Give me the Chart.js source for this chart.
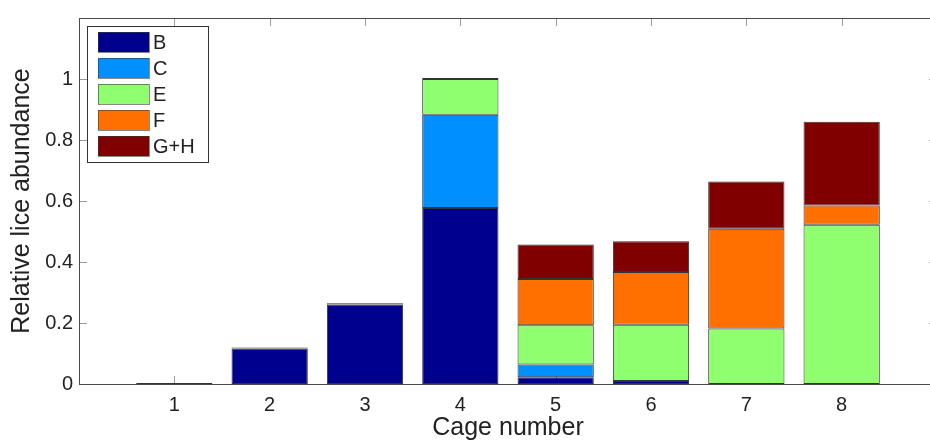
<!DOCTYPE html>
<html>
<head>
<meta charset="utf-8">
<script src="https://cdn.jsdelivr.net/npm/chart.js@4/dist/chart.umd.min.js"></script>
<style>
  html, body { margin: 0; padding: 0; background: #fff; overflow: hidden; }
  #wrap { width: 940px; height: 441px; }
</style>
</head>
<body>
<div id="wrap"><canvas id="chart-canvas" width="940" height="441"></canvas></div>
<script>
const chart = document.getElementById("chart-canvas");

// Data
const cages = [1, 2, 3, 4, 5, 6, 7, 8];
const stageB  = [0.003, 0.116, 0.261, 0.577, 0.022, 0.010, 0, 0];
const stageC  = [0, 0, 0, 0.306, 0.042, 0, 0, 0];
const stageE  = [0, 0, 0, 0.117, 0.129, 0.184, 0.182, 0.522];
const stageF  = [0, 0, 0, 0, 0.151, 0.173, 0.327, 0.063];
const stageGH = [0, 0.004, 0.004, 0.003, 0.113, 0.101, 0.155, 0.275];
const yTicks = [0, 0.2, 0.4, 0.6, 0.8, 1];
// ======================

const fontFamily = "'Liberation Sans', Arial, Helvetica, sans-serif";
const textColor = "#222";
const axisColor = "#4a4a4a";
const barEdge = "#333";

function series(label, values, color) {
  return {
    label: label,
    // empty stages are left out so they don't leave a border line
    data: cages.map((c, i) => ({ x: c, y: values[i] || null })),
    backgroundColor: color,
    borderColor: barEdge,
    borderWidth: 1,
    borderSkipped: false,
    barPercentage: 0.8,
    categoryPercentage: 1
  };
}

const chartData = {
  datasets: [
    series("B", stageB, "#00008f"),
    series("C", stageC, "#008fff"),
    series("E", stageE, "#8fff70"),
    series("F", stageF, "#ff7000"),
    series("G+H", stageGH, "#800000")
  ]
};

// inside ticks, like the matlab axes
const tickMarks = {
  id: "tickMarks",
  beforeDatasetsDraw(c) {
    const { ctx, chartArea: a, scales } = c;
    const len = 8;
    ctx.save();
    ctx.strokeStyle = "#9a9a9a";
    ctx.lineWidth = 1;
    ctx.beginPath();
    yTicks.concat([1.2]).forEach((v) => {
      const y = Math.round(scales.y.getPixelForValue(v)) + 0.5;
      ctx.moveTo(a.left, y); ctx.lineTo(a.left + len, y);
      ctx.moveTo(a.right, y); ctx.lineTo(a.right - len, y);
    });
    cages.forEach((v) => {
      const x = Math.round(scales.x.getPixelForValue(v)) + 0.5;
      ctx.moveTo(x, a.top); ctx.lineTo(x, a.top + len);
      ctx.moveTo(x, a.bottom); ctx.lineTo(x, a.bottom - len);
    });
    ctx.stroke();
    ctx.restore();
  },
  afterDatasetsDraw(c) {
    const { ctx, chartArea: a } = c;
    ctx.save();
    ctx.strokeStyle = axisColor;
    ctx.lineWidth = 1;
    ctx.strokeRect(Math.round(a.left) + 0.5, Math.round(a.top) + 0.5,
      Math.round(a.right - a.left), Math.round(a.bottom - a.top));
    ctx.restore();
  }
};

// legend box sitting inside the axes, top left
const boxLegend = {
  id: "boxLegend",
  afterDraw(c) {
    const { ctx, chartArea: a } = c;
    const x0 = a.left + 8, y0 = a.top + 8;
    const w = 121, h = 136;
    ctx.save();
    ctx.fillStyle = "#fff";
    ctx.fillRect(x0, y0, w, h);
    ctx.strokeStyle = "#333";
    ctx.lineWidth = 1;
    ctx.strokeRect(Math.round(x0) + 0.5, Math.round(y0) + 0.5, w, h);
    ctx.font = "20px " + fontFamily;
    ctx.textBaseline = "middle";
    c.data.datasets.forEach((ds, i) => {
      const cy = y0 + 16 + i * 26;
      ctx.fillStyle = ds.backgroundColor;
      ctx.fillRect(x0 + 11, cy - 10, 51, 20);
      ctx.strokeStyle = "rgba(60,60,60,0.6)";
      ctx.strokeRect(Math.round(x0 + 11) + 0.5, Math.round(cy - 10) + 0.5, 51, 20);
      ctx.fillStyle = textColor;
      ctx.fillText(ds.label, x0 + 66, cy + 1);
    });
    ctx.restore();
  }
};

const options = {
  responsive: false,
  animation: false,
  layout: { padding: { top: 13, right: 3, left: 0, bottom: 0 } },
  plugins: {
    legend: { display: false },
    tooltip: { enabled: false }
  },
  scales: {
    x: {
      type: "linear",
      stacked: true,
      offset: false,
      min: 0,
      max: 9,
      grid: { display: false, drawTicks: false, offset: false },
      border: { display: false },
      afterBuildTicks: (s) => { s.ticks = cages.map((v) => ({ value: v })); },
      afterFit: (s) => { s.height = 57; },
      ticks: {
        color: textColor,
        padding: 9,
        font: { family: fontFamily, size: 20 },
        callback: (v) => String(v)
      },
      title: {
        display: true,
        text: "Cage number",
        color: textColor,
        font: { family: fontFamily, size: 25, lineHeight: 1 },
        padding: { top: 0, bottom: 0 }
      }
    },
    y: {
      stacked: true,
      min: 0,
      max: 1.2,
      grid: { display: false, drawTicks: false },
      border: { display: false },
      afterBuildTicks: (s) => { s.ticks = yTicks.map((v) => ({ value: v })); },
      afterFit: (s) => { s.width = 79; },
      ticks: {
        color: textColor,
        padding: 6,
        font: { family: fontFamily, size: 20 },
        callback: (v) => String(v)
      },
      title: {
        display: true,
        text: "Relative lice abundance",
        color: textColor,
        font: { family: fontFamily, size: 25, lineHeight: 1 },
        padding: { top: 10, bottom: 0 }
      }
    }
  }
};

const config = {
  type: "bar",
  data: chartData,
  options: options,
  plugins: [tickMarks, boxLegend]
};

new Chart(chart, config);
</script>
</body>
</html>
